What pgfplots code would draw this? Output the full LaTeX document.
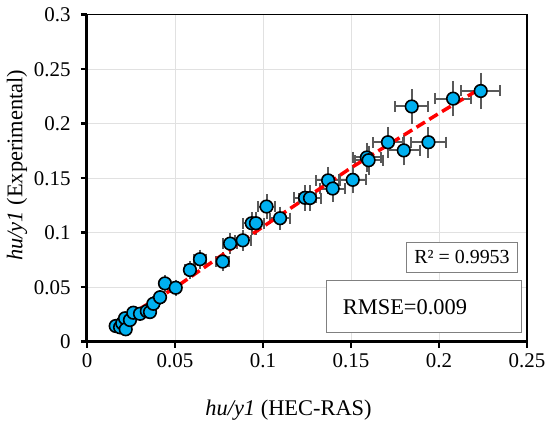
\documentclass[border=0pt]{standalone}
\usepackage{fontspec}
\setmainfont{Liberation Serif}
\usepackage{pgfplots}
\usepackage{pgfplotstable}
\pgfplotsset{compat=1.18}
\definecolor{mk}{RGB}{0,176,240}
\definecolor{eb}{RGB}{89,89,89}
\definecolor{gr}{RGB}{225,225,225}
\definecolor{bx}{RGB}{128,128,128}
\pgfplotstableread{
x y
0.0163 0.0144
0.0188 0.0132
0.0200 0.0170
0.0216 0.0215
0.0220 0.0114
0.0244 0.0199
0.0263 0.0266
0.0301 0.0256
0.0340 0.0280
0.0358 0.0272
0.0377 0.0348
0.0415 0.0408
0.0443 0.0535
0.0504 0.0495
0.0585 0.0658
0.0642 0.0757
0.0771 0.0735
0.0813 0.0900
0.0885 0.0930
0.0936 0.1087
0.0960 0.1087
0.1020 0.1240
0.1097 0.1133
0.1239 0.1320
0.1267 0.1318
0.1370 0.1480
0.1396 0.1405
0.1510 0.1485
0.1590 0.1690
0.1600 0.1665
0.1710 0.1830
0.1800 0.1755
0.1845 0.2158
0.1940 0.1830
0.2080 0.2230
0.2237 0.2300
}\datatable
\begin{document}
\begin{tikzpicture}
\path (-87bp,-92.3bp) rectangle (463bp,341.7bp);
\begin{axis}[
  scale only axis, width=440bp, height=327bp,
  xmin=0, xmax=0.25, ymin=0, ymax=0.3,
  xtick={0,0.05,0.1,0.15,0.2,0.25},
  ytick={0,0.05,0.1,0.15,0.2,0.25,0.3},
  xticklabels={0,0.05,0.1,0.15,0.2,0.25},
  yticklabels={0,0.05,0.1,0.15,0.2,0.25,0.3},
  tick pos=left,
  font=\fontsize{21}{25}\selectfont,
  grid=major,
  major grid style={gr, line width=0.8bp},
  axis line style={black, line width=1.3bp},
  tick align=outside,
  major tick length=6bp,
  major tick style={black, line width=2.5bp},
  xticklabel style={yshift=-2bp},
  yticklabel style={xshift=-7bp},
  xlabel={\textit{hu/y1} (HEC-RAS)},
  ylabel={\textit{hu/y1} (Experimental)},
  label style={font=\fontsize{22.5}{26}\selectfont},
  xlabel style={at={(axis description cs:0.458,-0.208)}, anchor=center},
  ylabel style={at={(axis description cs:-0.159,0.54)}, anchor=center},
  clip=false,
]
% horizontal error bars
\addplot[
  only marks, mark=none,
  error bars/.cd,
    x dir=both, x fixed relative=0.05,
    error mark=|,
    error bar style={eb, line width=2bp},
    error mark options={eb, line width=2bp, mark size=5.5bp},
] table {\datatable};
% vertical error bars and points
\addplot[
  only marks, mark=*, mark size=6.3bp,
  mark options={fill=mk, draw=black, line width=1.6bp},
  error bars/.cd,
    y dir=both, y fixed relative=0.05,
    error mark=-,
    error bar style={eb, line width=2bp},
    error mark options={eb, line width=2bp, mark size=5.5bp},
] table {\datatable};
\addplot[red, line width=3.5bp, dash pattern=on 10bp off 5bp, no marks] coordinates {
(0.0159,0.0165) (0.05,0.0495) (0.1,0.1055) (0.15,0.1595) (0.2,0.2095) (0.2237,0.2325)
};
\draw[bx, line width=1bp, fill=white] (axis cs:0.1817,0.0637) rectangle (axis cs:0.2445,0.0909);
\node[font=\fontsize{20}{24}\selectfont, anchor=center] at (axis cs:0.2131,0.0773) {R² = 0.9953};
\draw[bx, line width=1bp, fill=white] (axis cs:0.1362,0.0086) rectangle (axis cs:0.2470,0.0560);
\node[font=\fontsize{22.5}{26}\selectfont, anchor=west, inner sep=0pt] at (axis cs:0.1453,0.0321) {RMSE=0.009};
\draw[black, line width=3bp] (rel axis cs:0,1) -- (rel axis cs:0,0) -- (rel axis cs:1,0);
\end{axis}
\end{tikzpicture}
\end{document}
